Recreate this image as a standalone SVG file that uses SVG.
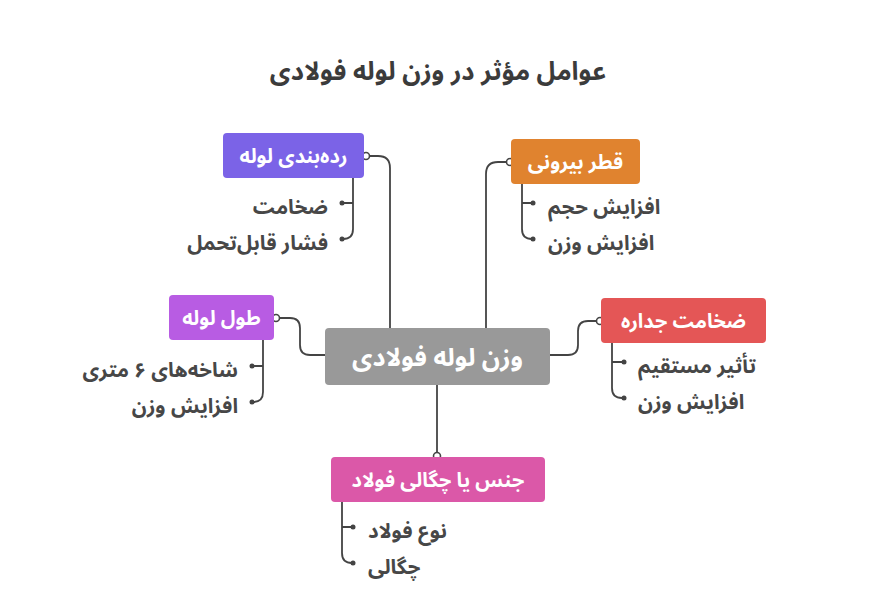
<svg xmlns="http://www.w3.org/2000/svg" width="876" height="616" viewBox="0 0 876 616">
<style>
.t{font-family:"Noto Sans Arabic","Vazirmatn","DejaVu Sans",sans-serif;font-weight:bold}
.title{font-size:25.5px;fill:#3b3b3b}
.lbl{font-size:20px;fill:#ffffff}
.main{font-size:25px;fill:#ffffff}
.item{font-size:20.5px;fill:#474747}
.ln{fill:none;stroke:#444;stroke-width:1.8}
.port{fill:#fff;stroke:#444;stroke-width:1.6}
.dot{fill:#444}
</style>
<rect width="876" height="616" fill="#ffffff"/>
<text class="t title" x="438" y="80" text-anchor="middle">عوامل مؤثر در وزن لوله فولادی</text>
<g id="connectors">
<path class="ln" d="M366,156 L378,156 Q390,156 390,168 L390,328"/>
<path class="ln" d="M510,162 L498,162 Q486,162 486,174 L486,328"/>
<path class="ln" d="M276,318 L290,318 Q300,318 300,328 L300,345 Q300,355 310,355 L325,355"/>
<path class="ln" d="M600,321 L588,321 Q578,321 578,331 L578,345 Q578,355 568,355 L550,355"/>
<path class="ln" d="M437,385 L437,456"/>
<circle class="port" cx="366" cy="156" r="3.5"/>
<circle class="port" cx="510" cy="162" r="3.5"/>
<circle class="port" cx="276" cy="318" r="3.5"/>
<circle class="port" cx="600" cy="321" r="3.5"/>
<circle class="port" cx="437" cy="456" r="3.5"/>
</g>
<g id="center">
<rect x="325" y="328" width="225" height="57" rx="4" fill="#999999"/>
<text class="t main" x="437.5" y="366" text-anchor="middle">وزن لوله فولادی</text>
</g>
<g id="node-radebandi">
<rect x="223" y="133" width="141" height="45" rx="4" fill="#7b63e7"/>
<text class="t lbl" x="293.5" y="163" text-anchor="middle">رده‌بندی لوله</text>
<path class="ln" d="M353,178 L353,229 Q353,239 343,239 M353,203 L343,203"/>
<circle class="dot" cx="342" cy="203" r="2.5"/>
<circle class="dot" cx="342" cy="239" r="2.5"/>
<text class="t item" x="328" y="214" text-anchor="end">ضخامت</text>
<text class="t item" x="328" y="250" text-anchor="end">فشار قابل‌تحمل</text>
</g>
<g id="node-qotr">
<rect x="511" y="139" width="129" height="45" rx="4" fill="#e0832f"/>
<text class="t lbl" x="575.5" y="169" text-anchor="middle">قطر بیرونی</text>
<path class="ln" d="M522,184 L522,229 Q522,239 532,239 M522,203 L532,203"/>
<circle class="dot" cx="533" cy="203" r="2.5"/>
<circle class="dot" cx="533" cy="239" r="2.5"/>
<text class="t item" x="548" y="214" text-anchor="start">افزایش حجم</text>
<text class="t item" x="548" y="250" text-anchor="start">افزایش وزن</text>
</g>
<g id="node-tool">
<rect x="169" y="295" width="105" height="45" rx="4" fill="#b85ce3"/>
<text class="t lbl" x="221.5" y="325" text-anchor="middle">طول لوله</text>
<path class="ln" d="M263,340 L263,392 Q263,402 253,402 M263,366 L253,366"/>
<circle class="dot" cx="252" cy="366" r="2.5"/>
<circle class="dot" cx="252" cy="402" r="2.5"/>
<text class="t item" x="238" y="377" text-anchor="end">شاخه‌های ۶ متری</text>
<text class="t item" x="238" y="413" text-anchor="end">افزایش وزن</text>
</g>
<g id="node-zekhamat">
<rect x="601" y="298" width="165" height="45" rx="4" fill="#e45656"/>
<text class="t lbl" x="683.5" y="328" text-anchor="middle">ضخامت جداره</text>
<path class="ln" d="M612,343 L612,388 Q612,398 622,398 M612,362 L622,362"/>
<circle class="dot" cx="624" cy="362" r="2.5"/>
<circle class="dot" cx="624" cy="398" r="2.5"/>
<text class="t item" x="638" y="373" text-anchor="start">تأثیر مستقیم</text>
<text class="t item" x="638" y="409" text-anchor="start">افزایش وزن</text>
</g>
<g id="node-jens">
<rect x="331" y="457" width="214" height="45" rx="4" fill="#db58a8"/>
<text class="t lbl" x="438" y="487" text-anchor="middle">جنس یا چگالی فولاد</text>
<path class="ln" d="M342,502 L342,553 Q342,563 352,563 M342,527 L352,527"/>
<circle class="dot" cx="353" cy="527" r="2.5"/>
<circle class="dot" cx="353" cy="563" r="2.5"/>
<text class="t item" x="368" y="538" text-anchor="start">نوع فولاد</text>
<text class="t item" x="368" y="574" text-anchor="start">چگالی</text>
</g>
</svg>
